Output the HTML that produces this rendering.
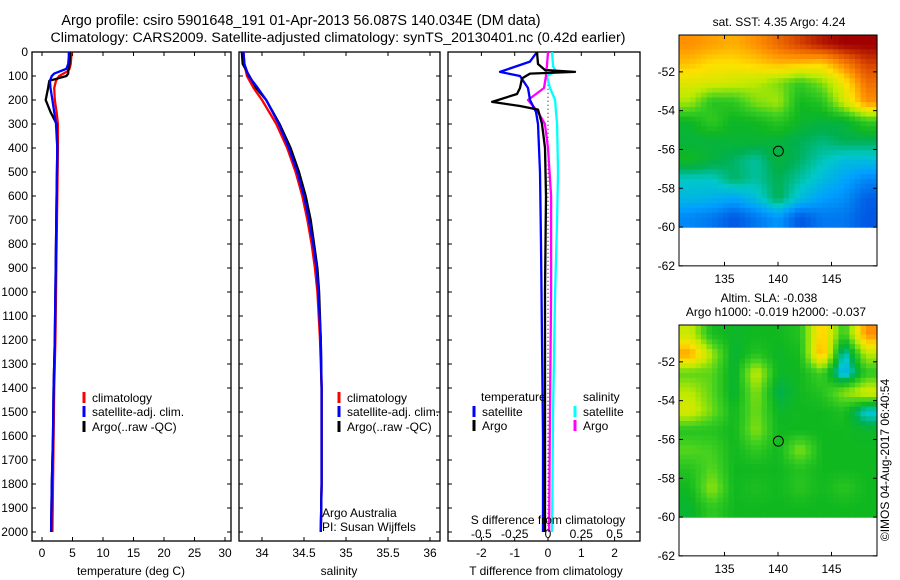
<!DOCTYPE html>
<html><head><meta charset="utf-8">
<style>
body{margin:0;background:#fff;}
svg{display:block;font-family:"Liberation Sans",sans-serif;}
text{font-size:12px;fill:#000;}
</style></head>
<body>
<svg id="chart" width="900" height="580" viewBox="0 0 900 580">
<text x="301" y="25" text-anchor="middle" style="font-size:14.4px">Argo profile: csiro 5901648_191 01-Apr-2013 56.087S 140.034E (DM data)</text>
<text x="338" y="42" text-anchor="middle" style="font-size:14.2px">Climatology: CARS2009. Satellite-adjusted climatology: synTS_20130401.nc (0.42d earlier)</text>
<g id="g"></g>
<text transform="translate(889,460) rotate(-90)" text-anchor="middle">©IMOS 04-Aug-2017 06:40:54</text>
</svg>
<script>
// ---- data ----
const tDepths=[0,20,50,70,80,90,100,120,150,200,250,300,400,600,800,1000,1200,1400,1600,1800,2000];
const tClim=[4.8,4.8,4.7,4.5,4.2,3.5,2.8,2.3,2.0,2.1,2.4,2.6,2.6,2.5,2.4,2.3,2.2,2.0,1.9,1.8,1.7];
const tSat=[4.4,4.4,4.3,4.0,3.0,2.0,1.6,1.3,1.4,1.7,2.0,2.3,2.5,2.4,2.3,2.2,2.1,1.9,1.8,1.6,1.5];
const tArgo=[4.6,4.6,4.5,4.4,4.3,4.3,4.0,1.2,1.0,0.6,1.4,2.4,2.5,2.4,2.3,2.2,2.1,1.9,1.8,1.6,1.5];
const sDepths=[0,50,100,150,200,300,400,500,600,700,800,900,1000,1200,1400,1600,1800,2000];
const sClim=[33.78,33.79,33.82,33.9,34.0,34.17,34.3,34.4,34.48,34.54,34.59,34.63,34.66,34.69,34.71,34.71,34.71,34.70];
const sSat=[33.78,33.79,33.84,33.95,34.05,34.2,34.32,34.42,34.5,34.56,34.61,34.65,34.67,34.7,34.71,34.71,34.71,34.70];
const sArgo=[33.76,33.77,33.85,33.93,34.05,34.21,34.34,34.44,34.52,34.58,34.62,34.66,34.68,34.7,34.71,34.71,34.71,34.70];
const dtSatDepths=[0,40,83,100,150,200,250,300,500,800,1200,1600,2000];
const dtSat=[-0.33,-0.54,-1.44,-0.84,-0.6,-0.54,-0.36,-0.3,-0.24,-0.21,-0.18,-0.15,-0.15];
const dtArgoDepths=[0,50,75,83,90,110,150,175,208,225,240,300,400,600,1000,1500,2000];
const dtArgo=[-0.33,-0.3,-0.09,0.81,-0.54,-0.78,-0.84,-0.93,-1.68,-0.84,-0.3,-0.18,-0.09,-0.06,-0.09,-0.09,-0.09];
const dsSatDepths=[0,60,80,100,150,200,250,300,500,700,1000,1500,2000];
const dsSat=[0.03,0.038,0.06,-0.008,0.015,0.053,0.06,0.068,0.075,0.068,0.053,0.038,0.03];
const dsArgoDepths=[0,60,80,100,150,200,215,250,300,400,600,1000,1500,2000];
const dsArgo=[0,-0.008,-0.015,-0.015,-0.03,-0.15,-0.128,-0.075,-0.023,0,0.023,0.023,0.015,0.008];
const depthTicks=[0,100,200,300,400,500,600,700,800,900,1000,1100,1200,1300,1400,1500,1600,1700,1800,1900,2000];
const tTicks=[0,5,10,15,20,25,30];
const sTicks=[34,34.5,35,35.5,36];
const sTickLabels=["34","34.5","35","35.5","36"];
const dtTicks=[-2,-1,0,1,2];
const dsTicks=[-0.5,-0.25,0,0.25,0.5];
const dsTickLabels=["-0.5","-0.25","0","0.25","0.5"];
const latTicks=[-52,-54,-56,-58,-60,-62];
const lonTicks=[135,140,145];
const sstGrid=[
[0.8,0.78,0.76,0.8,0.86,0.92,0.97,1,1],
[0.74,0.7,0.7,0.72,0.75,0.74,0.72,0.82,0.92],
[0.65,0.64,0.62,0.6,0.55,0.48,0.55,0.68,0.85],
[0.58,0.46,0.47,0.55,0.58,0.43,0.46,0.62,0.8],
[0.42,0.48,0.42,0.43,0.47,0.42,0.4,0.4,0.48],
[0.4,0.4,0.41,0.41,0.4,0.38,0.36,0.38,0.38],
[0.43,0.4,0.37,0.34,0.4,0.37,0.33,0.3,0.3],
[0.32,0.32,0.37,0.34,0.38,0.34,0.3,0.26,0.22],
[0.29,0.28,0.26,0.3,0.38,0.3,0.25,0.23,0.17],
[0.22,0.2,0.16,0.2,0.24,0.16,0.2,0.2,0.16]];
const slaGrid=[
[0.62,0.44,0.42,0.43,0.43,0.46,0.74,0.47,0.8],
[0.78,0.58,0.4,0.46,0.42,0.44,0.78,0.3,0.6],
[0.52,0.52,0.4,0.62,0.42,0.43,0.5,0.26,0.47],
[0.6,0.52,0.4,0.56,0.38,0.43,0.46,0.56,0.64],
[0.64,0.54,0.43,0.54,0.42,0.43,0.43,0.45,0.3],
[0.46,0.46,0.43,0.56,0.43,0.43,0.43,0.43,0.42],
[0.52,0.5,0.43,0.48,0.43,0.56,0.43,0.43,0.43],
[0.46,0.52,0.43,0.43,0.43,0.46,0.43,0.43,0.43],
[0.43,0.57,0.43,0.45,0.43,0.47,0.43,0.47,0.43],
[0.41,0.48,0.43,0.43,0.43,0.43,0.43,0.43,0.43]];
const argoLon=140.034, argoLat=-56.087;

// ---- helpers ----
const NS="http://www.w3.org/2000/svg";
const G=document.getElementById('g');
function mk(tag,attrs,parent){const e=document.createElementNS(NS,tag);for(const k in attrs)e.setAttribute(k,attrs[k]);(parent||G).appendChild(e);return e;}
function txt(x,y,s,anchor,name){const e=mk('text',{x:x,y:y,'text-anchor':anchor||'middle'});e.textContent=s;


return e;}
const TOP=52,BOT=541;
const yD=d=>TOP+d*0.24;
const xT=t=>42+t*6.1;
const xS=s=>262+(s-34)*84;
const xDT=t=>548+t*33.3;
const xDS=s=>548+s*133.2;

function panel(x0,x1,name){
  const r=mk('rect',{x:x0,y:TOP,width:x1-x0,height:BOT-TOP,fill:'none',stroke:'#000','stroke-width':1.3});
  
  
  depthTicks.forEach(d=>{mk('line',{x1:x0,x2:x0+4,y1:yD(d),y2:yD(d),stroke:'#000'});mk('line',{x1:x1,x2:x1-4,y1:yD(d),y2:yD(d),stroke:'#000'});});
}
function xticks(vals,labels,fx,name){
  vals.forEach((v,i)=>{const x=fx(v);mk('line',{x1:x,x2:x,y1:TOP,y2:TOP+4,stroke:'#000'});mk('line',{x1:x,x2:x,y1:BOT,y2:BOT-4,stroke:'#000'});
  txt(x,557,labels?labels[i]:String(v),'middle',name);});
}
function line(depths,vals,fx,color,name,w){
  const p=depths.map((d,i)=>(i?'L':'M')+fx(vals[i]).toFixed(1)+' '+yD(d).toFixed(1)).join(' ');
  const e=mk('path',{d:p,fill:'none',stroke:color,'stroke-width':w||2.3,'stroke-linejoin':'round'});
  
  
}
function legendEntry(x,y,color,label,name){
  mk('line',{x1:x,x2:x,y1:y-10,y2:y+1,stroke:color,'stroke-width':3});
  txt(x+8,y,label,'start',name);
}

// panel 1 temperature
panel(32,231,'temperature-panel');
depthTicks.forEach(d=>txt(28,yD(d)+4,String(d),'end','depth-tick-label'));
xticks(tTicks,null,xT,'temperature-tick-label');
txt(131,575,'temperature (deg C)','middle','temperature-axis-title');
line(tDepths,tClim,xT,'#f00','temp-climatology-line');
line(tDepths,tArgo,xT,'#000','temp-argo-line');
line(tDepths,tSat,xT,'#00f','temp-satellite-line');
legendEntry(84,402,'#f00','climatology','legend-climatology');
legendEntry(84,416,'#00f','satellite-adj. clim.','legend-satellite');
legendEntry(84,431,'#000','Argo(..raw -QC)','legend-argo');

// panel 2 salinity
panel(239,440,'salinity-panel');
xticks(sTicks,sTickLabels,xS,'salinity-tick-label');
txt(339,575,'salinity','middle','salinity-axis-title');
line(sDepths,sClim,xS,'#f00','sal-climatology-line');
line(sDepths,sArgo,xS,'#000','sal-argo-line');
line(sDepths,sSat,xS,'#00f','sal-satellite-line');
legendEntry(339,402,'#f00','climatology','legend-climatology');
legendEntry(339,416,'#00f','satellite-adj. clim.','legend-satellite');
legendEntry(339,431,'#000','Argo(..raw -QC)','legend-argo');
txt(322,517,'Argo Australia','start','credit-argo-australia');
txt(322,531,'PI: Susan Wijffels','start','credit-pi');

// panel 3 differences
panel(448,640,'difference-panel');
xticks(dtTicks,null,xDT,'t-diff-tick-label');
txt(546,575,'T difference from climatology','middle','t-diff-axis-title');
mk('line',{x1:548,x2:548,y1:yD(120),y2:yD(2000),stroke:'#000','stroke-dasharray':'1,3'});
line(dsSatDepths,dsSat,xDS,'#00ffff','s-diff-satellite-line');
line(dsArgoDepths,dsArgo,xDS,'#ff00ff','s-diff-argo-line');
line(dtSatDepths,dtSat,xDT,'#00f','t-diff-satellite-line');
line(dtArgoDepths,dtArgo,xDT,'#000','t-diff-argo-line');
txt(548,524,'S difference from climatology','middle','s-diff-axis-title');
dsTicks.forEach((v,i)=>txt(xDS(v),538,dsTickLabels[i],'middle','s-diff-tick-label'));
txt(481,401,'temperature','start','legend-temperature-heading');
txt(583,401,'salinity','start','legend-salinity-heading');
legendEntry(474,416,'#00f','satellite','legend-t-satellite');
legendEntry(474,430,'#000','Argo','legend-t-argo');
legendEntry(575,416,'#00ffff','satellite','legend-s-satellite');
legendEntry(575,430,'#ff00ff','Argo','legend-s-argo');

// maps
const stops=[[0,[0,16,144]],[0.15,[0,80,224]],[0.25,[0,160,255]],[0.32,[0,200,200]],[0.38,[0,176,80]],[0.43,[16,184,32]],[0.5,[64,208,32]],[0.6,[190,235,0]],[0.7,[255,224,0]],[0.8,[255,144,0]],[0.9,[224,80,0]],[1,[160,0,0]]];
function cmap(v){v=Math.max(0,Math.min(1,v));for(let i=1;i<stops.length;i++){if(v<=stops[i][0]){const a=stops[i-1],b=stops[i],f=(v-a[0])/(b[0]-a[0]);return 'rgb('+a[1].map((c,k)=>Math.round(c+(b[1][k]-c)*f)).join(',')+')';}}return 'rgb(160,0,0)';}
function sample(grid,fr,fc){
  const nr=grid.length,nc=grid[0].length;
  const r=Math.max(0,Math.min(nr-1,fr-0.5)),c=Math.max(0,Math.min(nc-1,fc-0.5));
  const r0=Math.floor(r),c0=Math.floor(c),r1=Math.min(nr-1,r0+1),c1=Math.min(nc-1,c0+1);
  const dr=r-r0,dc=c-c0;
  return grid[r0][c0]*(1-dr)*(1-dc)+grid[r0][c1]*(1-dr)*dc+grid[r1][c0]*dr*(1-dc)+grid[r1][c1]*dr*dc;
}
function map(top,grid,name){
  const L=679,R=877,lat0=-50.1;
  const yL=l=>top+(lat0-l)*19.4;
  const xL=l=>778+(l-140)*10.7;
  const g=mk('g',{});
  
  
  const nr=grid.length,nc=grid[0].length,SUB=4;
  const y0=yL(lat0),y1=yL(-60);
  const cw=(R-L)/(nc*SUB),ch=(y1-y0)/(nr*SUB);
  for(let r=0;r<nr*SUB;r++)for(let c=0;c<nc*SUB;c++){
    const v=sample(grid,(r+0.5)/SUB,(c+0.5)/SUB);
    const cell=mk('rect',{x:(L+c*cw).toFixed(1),y:(y0+r*ch).toFixed(1),width:(cw+0.6).toFixed(1),height:(ch+0.6).toFixed(1),fill:cmap(v)},g);
    
    
  }
  mk('rect',{x:L,y:top,width:R-L,height:yL(-62)-top,fill:'none',stroke:'#000'});
  latTicks.forEach(l=>{const y=yL(l);mk('line',{x1:L,x2:L+4,y1:y,y2:y,stroke:'#000'});mk('line',{x1:R,x2:R-4,y1:y,y2:y,stroke:'#000'});txt(L-4,y+4,String(l),'end','latitude-tick-label');});
  lonTicks.forEach(l=>{const x=xL(l);mk('line',{x1:x,x2:x,y1:top,y2:top+4,stroke:'#000'});mk('line',{x1:x,x2:x,y1:yL(-62),y2:yL(-62)-4,stroke:'#000'});txt(x,yL(-62)+17,String(l),'middle','longitude-tick-label');});
  const c=mk('circle',{cx:xL(argoLon),cy:yL(argoLat),r:5,fill:'none',stroke:'#000'});
  
  
}
map(35,sstGrid,'sst-map');
txt(779,26,'sat. SST: 4.35 Argo: 4.24','middle','sst-map-title');
map(325,slaGrid,'sla-map');
txt(769,302,'Altim. SLA: -0.038','middle','sla-map-title');
txt(776,316,'Argo h1000: -0.019 h2000: -0.037','middle','sla-map-subtitle');
</script>
</body></html>
